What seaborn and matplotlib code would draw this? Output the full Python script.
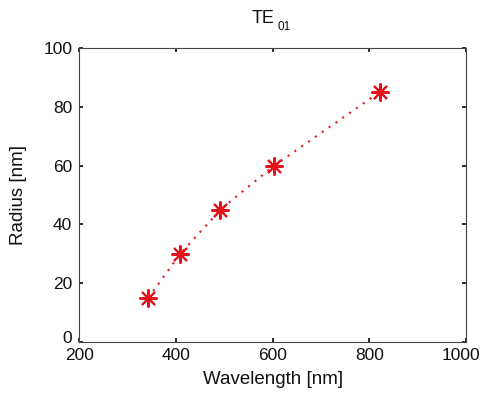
import matplotlib
matplotlib.use("Agg")
import matplotlib.pyplot as plt
import matplotlib.transforms as mtrans
import seaborn as sns
import pandas as pd

wavelength = [343, 409, 492, 603, 821]
radius = [15, 30, 45, 60, 85]
xticks = [200, 400, 600, 800, 1000]
yticks = [0, 20, 40, 60, 80, 100]

sns.set_theme(style="white")
plt.rcParams['font.family'] = ['Liberation Sans', 'DejaVu Sans']

df = pd.DataFrame({"Wavelength": wavelength, "Radius": radius})

fig = plt.figure(figsize=(4.83, 3.94), dpi=100)
ax = fig.add_axes([0.164, 0.132, 0.801, 0.746])
sns.lineplot(data=df, x="Wavelength", y="Radius", ax=ax, color="#e3141c",
             linestyle=(0, (1, 3)), linewidth=1.5, marker=(8, 2, 0),
             markersize=13, markeredgewidth=1.5, markeredgecolor="#e3141c")
ax.set_xlim(200, 1000)
ax.set_ylim(0, 100)
ax.set_xticks(xticks)
ax.set_yticks(yticks)
ax.tick_params(axis="both", direction="in", length=3, labelsize=12.5,
               colors="#111111", top=True, right=True, bottom=True, left=True)
ax.tick_params(axis="x", pad=4)
ax.tick_params(axis="y", pad=5)
for s in ax.spines.values():
    s.set_color("#444444")
    s.set_linewidth(0.8)
ax.set_xlabel("Wavelength [nm]", fontsize=13.5, labelpad=6, color="#111111")
ax.set_ylabel("Radius [nm]", fontsize=13.5, labelpad=12, color="#111111")

# nudge edge labels like the reference (keeps "1000" inside, "0" above "200")
last_x = ax.get_xticklabels()[-1]
last_x.set_transform(last_x.get_transform() +
                     mtrans.ScaledTranslation(-5 / 100, 0, fig.dpi_scale_trans))
first_y = ax.get_yticklabels()[0]
first_y.set_transform(first_y.get_transform() +
                      mtrans.ScaledTranslation(0, 5 / 100, fig.dpi_scale_trans))

# Title "TE" with a lowered subscript "01"
fig.text(275 / 483, 1 - 23 / 394, "TE", ha="right", va="baseline",
         fontsize=13, color="#111111")
fig.text(277 / 483, 1 - 30 / 394, "01", ha="left", va="baseline",
         fontsize=8.5, color="#111111")
fig.savefig("out.png", dpi=100)
